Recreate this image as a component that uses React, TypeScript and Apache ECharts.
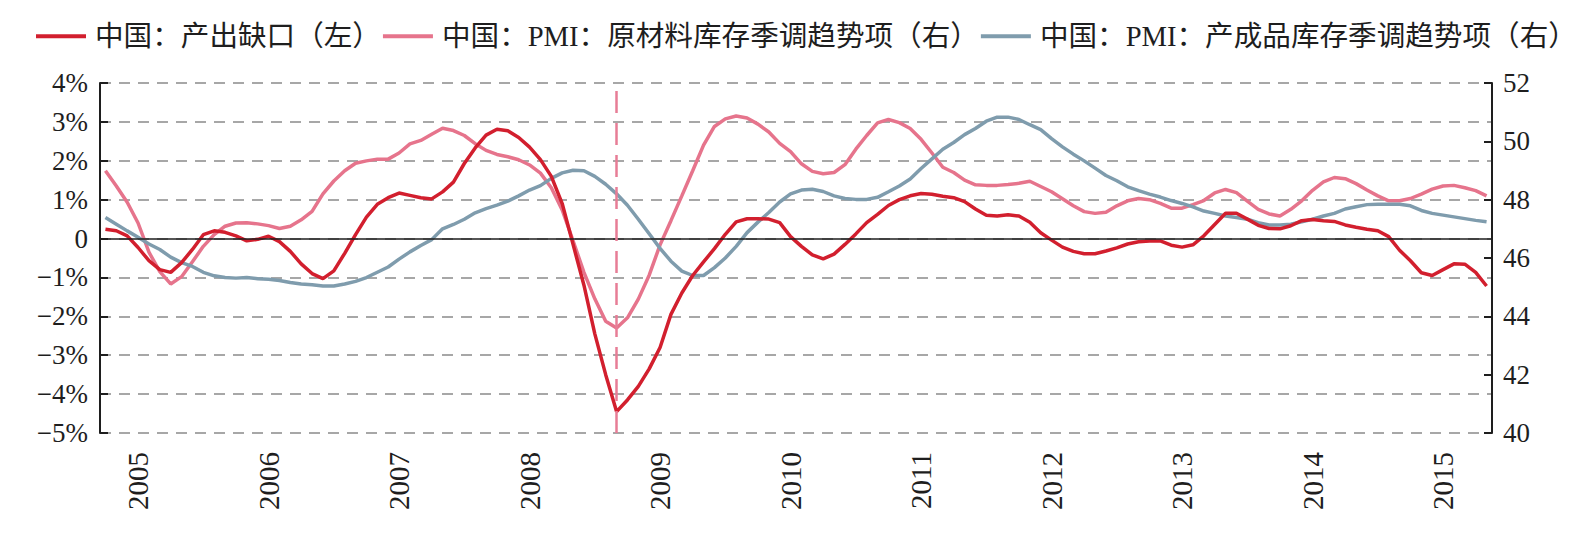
import React, { useEffect, useRef } from "react";
import * as echarts from "echarts";

// Monthly categories: 2004-10 .. 2015-05 (128 months)
const START_YEAR = 2004;
const START_MONTH = 10;
const MONTH_COUNT = 128;
const months: string[] = [];
for (let k = 0; k < MONTH_COUNT; k++) {
  const idx = START_MONTH - 1 + k;
  const y = START_YEAR + Math.floor(idx / 12);
  const m = (idx % 12) + 1;
  months.push(`${y}-${String(m).padStart(2, "0")}`);
}

const seriesNames = [
  "中国：产出缺口（左）",
  "中国：PMI：原材料库存季调趋势项（右）",
  "中国：PMI：产成品库存季调趋势项（右）",
];

// 产出缺口 (%), left axis
const outputGap: number[] = [
  0.24, 0.2, 0.07, -0.23, -0.57, -0.8, -0.87, -0.62, -0.28, 0.1,
  0.2, 0.16, 0.07, -0.06, -0.02, 0.06, -0.08, -0.33, -0.65, -0.9,
  -1.03, -0.83, -0.38, 0.1, 0.55, 0.88, 1.05, 1.17, 1.11, 1.05,
  1.02, 1.2, 1.45, 1.93, 2.33, 2.66, 2.81, 2.77, 2.6, 2.35,
  2.03, 1.6, 0.9, -0.15, -1.2, -2.45, -3.5, -4.45, -4.15, -3.8,
  -3.35, -2.8, -1.95, -1.4, -0.95, -0.6, -0.26, 0.11, 0.43, 0.51,
  0.51, 0.5, 0.41, 0.05, -0.2, -0.42, -0.52, -0.4, -0.15, 0.12,
  0.41, 0.62, 0.85, 1.0, 1.1, 1.16, 1.14, 1.09, 1.05, 0.95,
  0.76, 0.6, 0.58, 0.61, 0.58, 0.42, 0.15, -0.04, -0.22, -0.33,
  -0.39, -0.39, -0.32, -0.24, -0.14, -0.08, -0.06, -0.06, -0.17, -0.22,
  -0.16, 0.07, 0.36, 0.65, 0.65, 0.5, 0.34, 0.26, 0.25, 0.33,
  0.46, 0.49, 0.46, 0.44, 0.35, 0.29, 0.24, 0.2, 0.05, -0.3,
  -0.57, -0.88, -0.95, -0.8, -0.65, -0.66, -0.87, -1.22,
];

// PMI 原材料库存 (right axis)
const rawMaterialPMI: number[] = [
  48.99, 48.47, 47.91, 47.2, 46.2, 45.53, 45.11, 45.36, 45.87, 46.4,
  46.8, 47.09, 47.2, 47.21, 47.17, 47.11, 47.01, 47.09, 47.31, 47.6,
  48.2, 48.64, 48.99, 49.25, 49.33, 49.39, 49.39, 49.6, 49.91, 50.03,
  50.24, 50.45, 50.37, 50.2, 49.92, 49.69, 49.55, 49.47, 49.37, 49.19,
  48.91, 48.41, 47.65, 46.59, 45.51, 44.6, 43.83, 43.6, 43.95, 44.59,
  45.41, 46.45, 47.28, 48.13, 48.99, 49.87, 50.51, 50.77, 50.87, 50.8,
  50.59, 50.32, 49.93, 49.65, 49.23, 48.97, 48.89, 48.93, 49.2, 49.73,
  50.2, 50.63, 50.75, 50.64, 50.44, 50.07, 49.6, 49.11, 48.93, 48.67,
  48.51, 48.49, 48.49, 48.52, 48.56, 48.63, 48.45, 48.27, 48.03, 47.79,
  47.59, 47.53, 47.57, 47.79, 47.96, 48.04, 48.0, 47.87, 47.71, 47.71,
  47.83, 47.97, 48.23, 48.35, 48.24, 47.95, 47.67, 47.51, 47.44, 47.67,
  47.96, 48.32, 48.61, 48.76, 48.72, 48.55, 48.33, 48.13, 47.96, 47.96,
  48.04, 48.19, 48.36, 48.47, 48.49, 48.41, 48.31, 48.13,
];

// PMI 产成品库存 (right axis)
const finishedGoodsPMI: number[] = [
  47.39, 47.16, 46.93, 46.71, 46.48, 46.29, 46.03, 45.84, 45.71, 45.51,
  45.39, 45.33, 45.31, 45.33, 45.29, 45.27, 45.23, 45.16, 45.11, 45.08,
  45.04, 45.04, 45.11, 45.2, 45.33, 45.51, 45.69, 45.96, 46.21, 46.43,
  46.63, 47.0, 47.15, 47.33, 47.55, 47.69, 47.81, 47.95, 48.13, 48.33,
  48.48, 48.73, 48.92, 49.01, 48.99, 48.8, 48.53, 48.2, 47.81, 47.33,
  46.83, 46.33, 45.89, 45.55, 45.4, 45.4, 45.67, 46.0, 46.4, 46.87,
  47.23, 47.56, 47.92, 48.2, 48.33, 48.36, 48.28, 48.13, 48.04, 48.01,
  48.01, 48.08, 48.27, 48.47, 48.71, 49.07, 49.4, 49.73, 49.96, 50.23,
  50.44, 50.69, 50.83, 50.83, 50.75, 50.57, 50.4, 50.09, 49.81, 49.56,
  49.33, 49.08, 48.83, 48.65, 48.44, 48.31, 48.19, 48.09, 47.97, 47.87,
  47.75, 47.61, 47.53, 47.44, 47.39, 47.33, 47.21, 47.13, 47.13, 47.16,
  47.24, 47.33, 47.44, 47.53, 47.68, 47.76, 47.83, 47.84, 47.84, 47.84,
  47.79, 47.63, 47.53, 47.47, 47.41, 47.35, 47.29, 47.24,
];

const crisisMonth = "2008-09";

const leftTickLabels: Record<string, string> = {
  "4": "4%", "3": "3%", "2": "2%", "1": "1%", "0": "0",
  "-1": "−1%", "-2": "−2%", "-3": "−3%", "-4": "−4%", "-5": "−5%",
};

const RED = "#d21f2e";
const PINK = "#e6748c";
const BLUE = "#7f9cad";
const SERIF = "'Liberation Serif', 'Times New Roman', 'Noto Sans CJK SC', serif";

export default function App() {
  const ref = useRef<HTMLDivElement>(null);
  useEffect(() => {
    if (!ref.current) return;
    const chart = echarts.init(ref.current, undefined, { renderer: "svg" });
    chart.setOption({
      animation: false,
      backgroundColor: "#ffffff",
      legend: {
        left: 36,
        top: 22,
        width: 1700,
        padding: 0,
        itemWidth: 50,
        itemHeight: 4,
        itemGap: 2,
        icon: "rect",
        textStyle: { fontFamily: SERIF, fontSize: 28.6, color: "#1e1e1e", padding: [0, 0, 0, 4] },
        data: seriesNames,
      },
      grid: { left: 100, right: 94, top: 83, bottom: 107 },
      xAxis: {
        type: "category",
        data: months,
        boundaryGap: true,
        axisLine: { show: false },
        axisTick: { show: false },
        splitLine: { show: false },
        axisLabel: {
          rotate: 90,
          margin: 19,
          fontFamily: SERIF,
          fontSize: 29,
          color: "#1e1e1e",
          interval: (_i: number, v: string) => v.endsWith("-01"),
          formatter: (v: string) => v.slice(0, 4),
        },
      },
      yAxis: [
        {
          type: "value",
          position: "left",
          min: -5,
          max: 4,
          interval: 1,
          axisLine: { show: true, lineStyle: { color: "#1e1e1e", width: 2 } },
          axisTick: { show: true, inside: true, length: 8, lineStyle: { color: "#1e1e1e", width: 2 } },
          axisLabel: {
            margin: 12,
            fontFamily: SERIF,
            fontSize: 27,
            color: "#1e1e1e",
            formatter: (v: number) => leftTickLabels[String(v)] ?? String(v),
          },
          splitLine: { show: true, lineStyle: { color: "#8a8a8a", width: 1.5, type: [11, 8] } },
        },
        {
          type: "value",
          position: "right",
          min: 40,
          max: 52,
          interval: 2,
          axisLine: { show: true, lineStyle: { color: "#1e1e1e", width: 2 } },
          axisTick: { show: true, inside: true, length: 8, lineStyle: { color: "#1e1e1e", width: 2 } },
          axisLabel: { margin: 11, fontFamily: SERIF, fontSize: 27, color: "#1e1e1e" },
          splitLine: { show: false },
        },
      ],
      series: [
        {
          name: seriesNames[0],
          type: "line",
          yAxisIndex: 0,
          data: outputGap,
          showSymbol: false,
          symbol: "none",
          z: 4,
          lineStyle: { color: RED, width: 3.5 },
          itemStyle: { color: RED },
          markLine: {
            silent: true,
            symbol: ["none", "none"],
            label: { show: false },
            animation: false,
            data: [
              { yAxis: 0, lineStyle: { color: "#1e1e1e", width: 1.5, type: "solid" } },
              { xAxis: crisisMonth, lineStyle: { color: "#e77d96", width: 2.5, type: [22, 10] } },
            ],
          },
        },
        {
          name: seriesNames[1],
          type: "line",
          yAxisIndex: 1,
          data: rawMaterialPMI,
          showSymbol: false,
          symbol: "none",
          z: 3,
          lineStyle: { color: PINK, width: 3.5 },
          itemStyle: { color: PINK },
        },
        {
          name: seriesNames[2],
          type: "line",
          yAxisIndex: 1,
          data: finishedGoodsPMI,
          showSymbol: false,
          symbol: "none",
          z: 3,
          lineStyle: { color: BLUE, width: 3.5 },
          itemStyle: { color: BLUE },
        },
      ],
    });
    return () => chart.dispose();
  }, []);
  return (
    <div
      ref={ref}
      style={{ position: "fixed", left: 0, top: 0, width: 1586, height: 540, background: "#fff" }}
    />
  );
}
